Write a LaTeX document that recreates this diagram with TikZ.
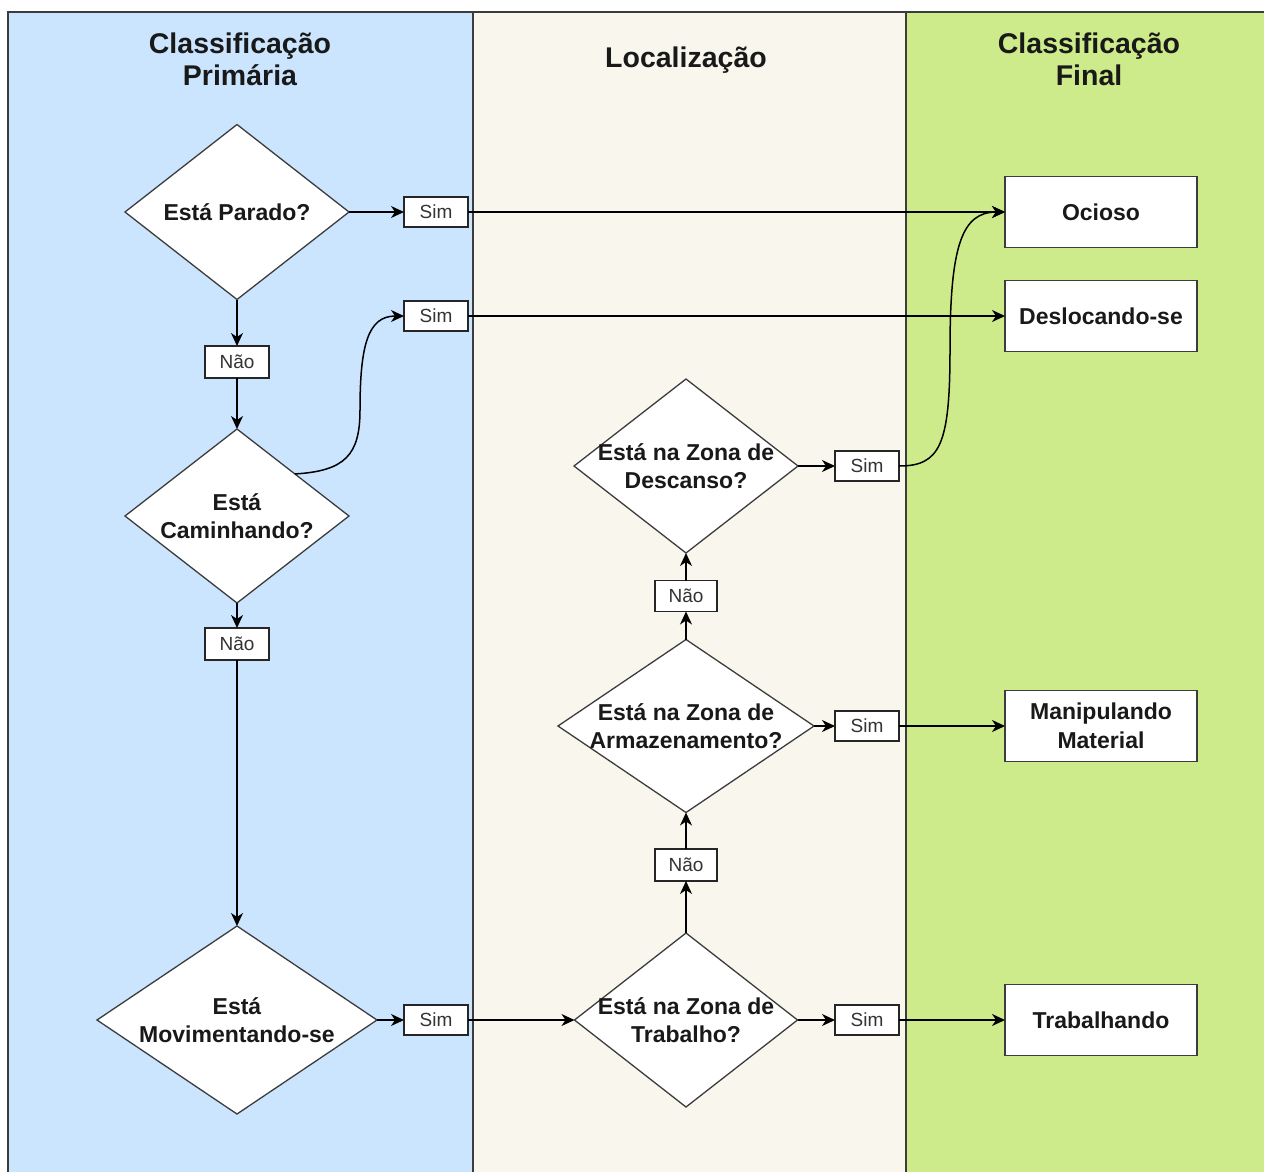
\documentclass[tikz,border=0pt]{standalone}
\usepackage{fontspec}
\setmainfont{Liberation Sans}
\usetikzlibrary{shapes.geometric,arrows.meta,calc}
\definecolor{laneblue}{HTML}{CCE5FF}
\definecolor{lanebeige}{HTML}{F9F7ED}
\definecolor{lanegreen}{HTML}{CDEB8B}
\definecolor{edgegray}{HTML}{3C3C3C}
\tikzset{
  lane/.style={draw=edgegray, line width=1.4pt},
  lanetitle/.style={font=\bfseries\fontsize{28.5}{32}\selectfont, align=center, inner sep=0, text=black!90},
  dec/.style={draw=edgegray, fill=white, diamond, inner sep=0, outer sep=0, line width=1.3pt},
  dtxt/.style={font=\bfseries\fontsize{23}{27.5}\selectfont, align=center, inner sep=0, text=black!90},
  lbl/.style={draw=black!85, fill=white, minimum width=64pt, minimum height=30pt, inner sep=0, outer sep=0, line width=1.3pt, font=\fontsize{19}{22}\selectfont, text=black!80},
  res/.style={draw=edgegray, fill=white, minimum width=192pt, minimum height=71pt, inner sep=0, outer sep=0, line width=1.3pt, align=center, font=\bfseries\fontsize{23}{29}\selectfont, text=black!90},
  arr/.style={-{Stealth[length=13pt,width=12pt,inset=4pt]}, line width=1.5pt, draw=black},
}
\begin{document}
\begin{tikzpicture}[x=1pt,y=-1pt]
\useasboundingbox (0,0) rectangle (1264,1171);
\clip (0,0) rectangle (1264,1171);
\fill[white] (0,0) rectangle (1264,1171);
% lanes
\draw[lane, fill=laneblue] (8,12) rectangle (473,1200);
\draw[lane, fill=lanebeige] (473,12) rectangle (906,1200);
\draw[lane, fill=lanegreen] (906,12) rectangle (1290,1200);
\node[lanetitle] (t1) at (240,59) {Classificação\\Primária};
\node[lanetitle] (t2) at (686,60) {Localização};
\node[lanetitle] (t3) at (1089,59) {Classificação\\Final};

% decisions
\node[dec, minimum width=224pt, minimum height=175pt, label={[dtxt]center:Está Parado?}] (d1) at (237,212) {};
\node[dec, minimum width=224pt, minimum height=174pt, label={[dtxt]center:{Está\\Caminhando?}}] (d2) at (237,516) {};
\node[dec, minimum width=280pt, minimum height=188pt, label={[dtxt]center:{Está\\Movimentando-se}}] (d3) at (237,1020) {};
\node[dec, minimum width=224pt, minimum height=174pt, label={[dtxt]center:{Está na Zona de\\Descanso?}}] (d4) at (686,466) {};
\node[dec, minimum width=256pt, minimum height=173pt, label={[dtxt]center:{Está na Zona de\\Armazenamento?}}] (d5) at (686,726) {};
\node[dec, minimum width=223pt, minimum height=174pt, label={[dtxt]center:{Está na Zona de\\Trabalho?}}] (d6) at (686,1020) {};

% labels
\node[lbl] (s1) at (436,212) {Sim};
\node[lbl] (s2) at (436,316) {Sim};
\node[lbl, minimum height=32pt] (n1) at (237,362) {Não};
\node[lbl, minimum height=32pt] (n2) at (237,644) {Não};
\node[lbl] (s3) at (436,1020) {Sim};
\node[lbl] (s4) at (867,466) {Sim};
\node[lbl] (s5) at (867,726) {Sim};
\node[lbl] (s6) at (867,1020) {Sim};
\node[lbl, minimum width=62pt, minimum height=31pt] (n3) at (686,596) {Não};
\node[lbl, minimum width=62pt, minimum height=32pt] (n4) at (686,865) {Não};

% results
\node[res] (r1) at (1101,212) {Ocioso};
\node[res] (r2) at (1101,316) {Deslocando-se};
\node[res] (r3) at (1101,726) {Manipulando\\Material};
\node[res] (r4) at (1101,1020) {Trabalhando};

% connectors
\draw[arr] (d1.east) -- (s1.west);
\draw[arr] (s1.east) -- (r1.west);
\draw[arr] (d1.south) -- (n1.north);
\draw[arr] (n1.south) -- (d2.north);
\draw[arr] (d2.36) .. controls (345,471) and (360,455) .. (360,410)
  .. controls (360,345) and (368,316) .. (s2.west);
\draw[arr] (s2.east) -- (r2.west);
\draw[arr] (d2.south) -- (n2.north);
\draw[arr] (n2.south) -- (d3.north);
\draw[arr] (d3.east) -- (s3.west);
\draw[arr] (s3.east) -- (d6.west);
\draw[arr] (d6.east) -- (s6.west);
\draw[arr] (s6.east) -- (r4.west);
\draw[arr] (d6.north) -- (n4.south);
\draw[arr] (n4.north) -- (d5.south);
\draw[arr] (d5.east) -- (s5.west);
\draw[arr] (s5.east) -- (r3.west);
\draw[arr] (d5.north) -- (n3.south);
\draw[arr] (n3.north) -- (d4.south);
\draw[arr] (d4.east) -- (s4.west);
\draw[arr] (s4.east) .. controls (940,466) and (950,445) .. (950,350)
  .. controls (950,245) and (962,212) .. (r1.west);
\end{tikzpicture}
\end{document}
